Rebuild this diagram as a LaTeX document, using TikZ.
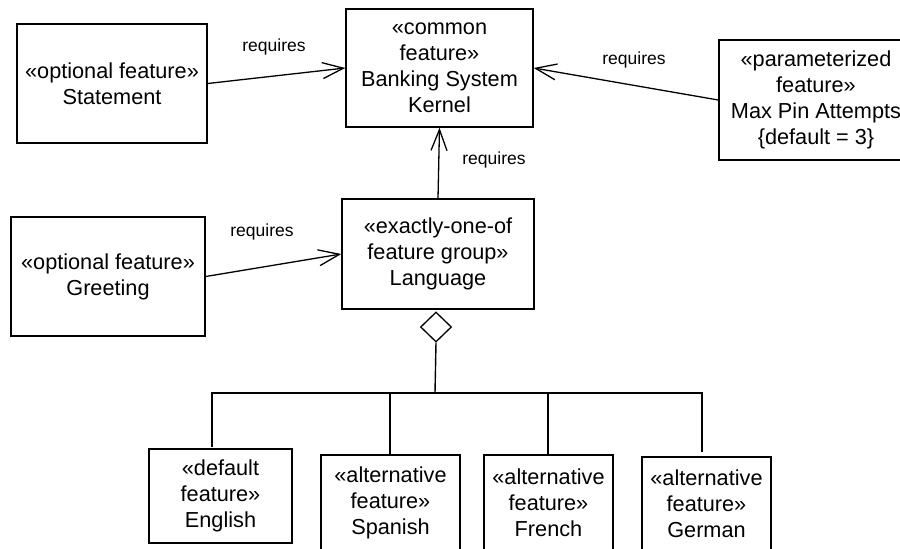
\documentclass[tikz,border=0pt]{standalone}
\usepackage{fontspec}
\setmainfont{Liberation Sans}
\usetikzlibrary{arrows.meta,shapes.geometric}

\tikzset{
  featbox/.style={draw, line width=1.5pt, align=center, inner sep=0pt,
    font=\fontsize{21.7}{26}\selectfont},
  dep/.style={line width=1.3pt, -{Straight Barb[length=21pt,width=16pt,line width=1.3pt]}},
  reqlabel/.style={font=\fontsize{17.5}{20}\selectfont, inner sep=0pt},
  wire/.style={line width=1.4pt},
  aggr/.style={diamond, draw, line width=1.3pt, inner sep=0pt,
    minimum width=31pt, minimum height=30pt}
}

\begin{document}
\begin{tikzpicture}[x=1pt, y=-1pt]
\useasboundingbox (0,0) rectangle (900,549);
\begin{scope}
\clip (0,0) rectangle (900,549);

% feature boxes
\node[featbox, minimum width=190pt, minimum height=119pt] (stmt) at (112,83.5)
  {«optional feature»\\Statement};
\node[featbox, minimum width=187pt, minimum height=118pt] (kernel) at (439.5,68)
  {«common\\feature»\\Banking System\\Kernel};
\node[featbox, minimum width=194pt, minimum height=120pt] (maxpin) at (816,100)
  {«parameterized\\feature»\\Max Pin Attempts\\\{default = 3\}};
\node[featbox, minimum width=192pt, minimum height=110pt] (lang) at (438,254)
  {«exactly-one-of\\feature group»\\Language};
\node[featbox, minimum width=194pt, minimum height=119pt] (greet) at (108,276.5)
  {«optional feature»\\Greeting};

\node[featbox, minimum width=143pt, minimum height=94pt] (eng) at (220.5,496)
  {«default\\feature»\\English};
\node[featbox, minimum width=139pt, minimum height=96pt] (spa) at (390.5,503)
  {«alternative\\feature»\\Spanish};
\node[featbox, minimum width=129pt, minimum height=96pt] (fre) at (548.5,503)
  {«alternative\\feature»\\French};
\node[featbox, minimum width=129pt, minimum height=93pt] (ger) at (706.5,503.5)
  {«alternative\\feature»\\German};

% dependencies
\draw[dep] (stmt.east) -- (kernel.west);
\draw[dep] (maxpin.west) -- (kernel.east);
\draw[dep] (lang.north) -- (kernel.south);
\draw[dep] (greet.east) -- (lang.west);

\node[reqlabel] (l1) at (274,47) {requires};
\node[reqlabel] (l2) at (634,60) {requires};
\node[reqlabel] (l3) at (494,160) {requires};
\node[reqlabel] (l4) at (262,232) {requires};

% feature group with its alternatives
\node[aggr] (dia) at (436,327) {};
\coordinate (junc) at (435,393);
\coordinate (engtop) at (212,447);
\coordinate (spatop) at (390,455);
\coordinate (fretop) at (548,455);
\coordinate (gertop) at (702,452);
\draw[wire] (dia.south) -- (junc);
\draw[wire] (engtop) -- (engtop |- junc) -- (gertop |- junc) -- (gertop);
\draw[wire] (spatop |- junc) -- (spatop);
\draw[wire] (fretop |- junc) -- (fretop);
\end{scope}
\end{tikzpicture}
\end{document}
